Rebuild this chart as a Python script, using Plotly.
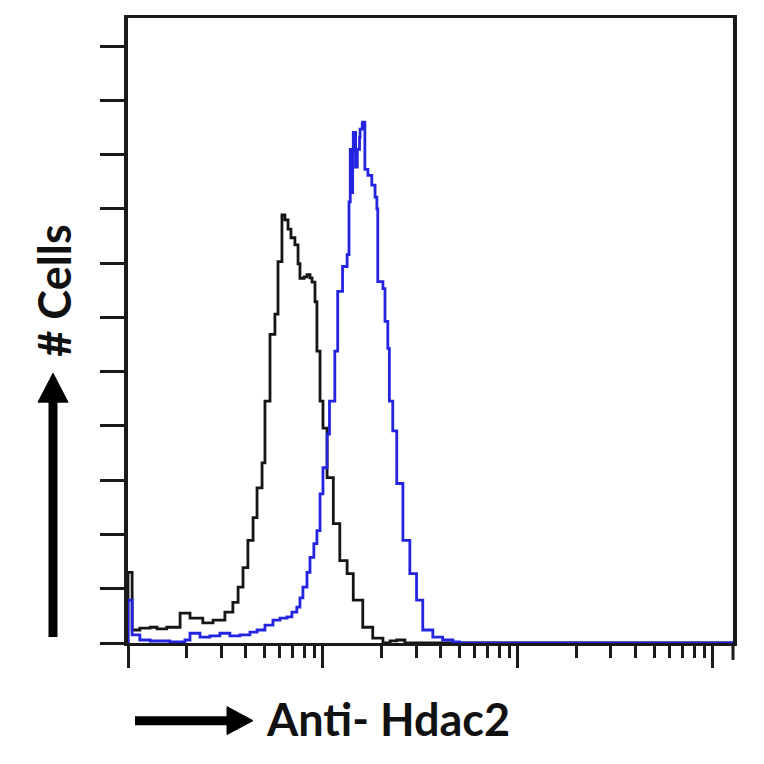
import plotly.graph_objects as go

# Fluorescence intensity (log axis) and cell counts
black_x = [1.0, 1.0, 1.05, 1.15, 1.30, 1.41, 1.58, 1.85, 2.08, 2.42, 2.73, 3.14, 3.45, 3.67, 3.89, 4.12,
           4.38, 4.59, 4.87, 5.04, 5.35, 5.67, 5.88, 6.16, 6.38, 6.62, 6.85, 7.18, 7.45, 7.62, 8.0, 8.28,
           8.58, 8.79, 9.10, 9.31, 9.66, 10.0, 10.5, 11.3, 12.2, 13.3, 14.3, 16.0, 18.0, 20.3, 22.1, 23.9,
           26.3, 31.4, 1267]
black_y = [0, 13.0, 2.4, 2.75, 2.9, 2.6, 2.9, 5.5, 4.6, 3.7, 4.2, 5.7, 7.5, 10.3, 13.9, 18.9,
           23.1, 28.6, 33.2, 44.6, 56.9, 60.6, 70.3, 78.9, 78.0, 76.3, 74.7, 73.4, 69.9, 67.2, 67.5, 67.9,
           67.3, 66.5, 62.9, 53.8, 44.6, 39.6, 30.5, 22.0, 15.2, 12.8, 7.9, 2.9, 0.9, 0, 0.4, 0.55,
           0, 0, 0]

blue_x = [1.0, 1.0, 1.05, 1.15, 1.30, 1.64, 1.96, 2.08, 2.34, 2.63, 2.96, 3.33, 3.75, 4.22, 4.59, 5.04,
          5.54, 6.02, 6.54, 6.93, 7.34, 7.62, 7.89, 8.28, 8.58, 8.98, 9.31, 9.66, 10.0, 10.5, 10.8, 11.5,
          11.9, 12.6, 13.3, 13.6, 13.8, 14.0, 14.2, 14.3, 14.7, 15.0, 15.4, 15.5, 15.9, 16.0, 16.4, 17.0,
          17.8, 18.5, 18.9, 19.1, 20.3, 20.8, 21.5, 21.9, 22.8, 23.9, 25.7, 27.9, 30.2, 32.5, 36.6, 41.1,
          46.4, 50.2, 1267]
blue_y = [0, 7.9, 1.5, 0.55, 0.37, 0.18, 0.55, 1.8, 1.1, 1.3, 1.8, 1.3, 1.5, 2.0, 2.4, 3.3,
          4.2, 4.6, 4.8, 5.7, 6.6, 8.3, 10.3, 13.0, 15.8, 18.3, 20.7, 27.5, 32.3, 38.5, 44.6, 53.8,
          64.8, 69.4, 71.6, 81.3, 91.0, 83.0, 90.5, 94.1, 87.7, 91.0, 93.2, 94.7, 95.8, 96.0, 87.3, 86.2,
          84.4, 82.2, 80.0, 66.6, 65.3, 59.3, 54.3, 44.6, 39.1, 29.4, 18.9, 12.8, 7.9, 2.4, 1.1, 0.55,
          0.18, 0, 0]

x_major = [1, 10, 100, 1000]
x_minor = [m * d for d in (1, 10, 100) for m in range(2, 10)]
y_ticks = list(range(0, 111, 10))

x_label = "Anti- Hdac2"
y_label = "# Cells"

AX = "#1a1a1a"
OFF = 8  # default page body margin

fig = go.Figure()
fig.add_trace(go.Scatter(x=black_x, y=black_y, mode="lines", line=dict(color="#151515", width=2.8, shape="hv"),
                         showlegend=False, hoverinfo="skip"))
fig.add_trace(go.Scatter(x=blue_x, y=blue_y, mode="lines", line=dict(color="#2424e0", width=2.8, shape="hv"),
                         showlegend=False, hoverinfo="skip"))

L, R, T, B = 128, 733, 15, 643
W, H = R - L, B - T


def px(xp):
    return (xp - L) / W


def py(yp):
    return (B - yp) / H


shapes = []
# vertical arrow
shapes.append(dict(type="line", xref="paper", yref="paper", x0=px(53), x1=px(53), y0=py(637), y1=py(396),
                   line=dict(color="black", width=9)))
shapes.append(dict(type="path", xref="paper", yref="paper",
                   path=f"M {px(38)} {py(401)} L {px(68)} {py(401)} L {px(53)} {py(372)} Z",
                   fillcolor="black", line=dict(color="black", width=1)))
# horizontal arrow
shapes.append(dict(type="line", xref="paper", yref="paper", x0=px(135), x1=px(232), y0=py(721), y1=py(721),
                   line=dict(color="black", width=9)))
shapes.append(dict(type="path", xref="paper", yref="paper",
                   path=f"M {px(227)} {py(707)} L {px(227)} {py(735)} L {px(253)} {py(721)} Z",
                   fillcolor="black", line=dict(color="black", width=1)))
# right border extension below the baseline
shapes.append(dict(type="line", xref="paper", yref="paper", x0=1, x1=1, y0=0, y1=py(660),
                   line=dict(color=AX, width=3)))

FW = 764 - OFF
fig.update_layout(
    width=FW, height=FW,
    margin=dict(l=L - OFF, r=FW - (R - OFF), t=T - OFF, b=FW - (B - OFF)),
    paper_bgcolor="white", plot_bgcolor="white",
    shapes=shapes,
    xaxis=dict(type="log", range=[0, 3.103], showgrid=False, zeroline=False,
               showline=True, linecolor=AX, linewidth=3, mirror=True,
               tickmode="array", tickvals=x_major, ticks="outside", ticklen=22, tickwidth=3, tickcolor=AX,
               showticklabels=False,
               minor=dict(tickmode="array", tickvals=x_minor, ticks="outside", ticklen=12, tickwidth=3,
                          tickcolor=AX, showgrid=False)),
    yaxis=dict(range=[0, 115.2], showgrid=False, zeroline=False,
               showline=True, linecolor=AX, linewidth=4, mirror=True,
               tickmode="array", tickvals=y_ticks, ticks="outside", ticklen=24, tickwidth=3, tickcolor=AX,
               showticklabels=False),
    annotations=[
        dict(text=f"<b>{x_label}</b>", xref="paper", yref="paper", x=px(264), y=py(719),
             xanchor="left", yanchor="middle", showarrow=False,
             font=dict(family="Lato", size=45, color="#111")),
        dict(text=f"<b>{y_label}</b>", xref="paper", yref="paper", x=px(54), y=py(289),
             xanchor="center", yanchor="middle", showarrow=False, textangle=-90,
             font=dict(family="Lato", size=45, color="#111")),
    ],
)

fig.write_html("out.html")
